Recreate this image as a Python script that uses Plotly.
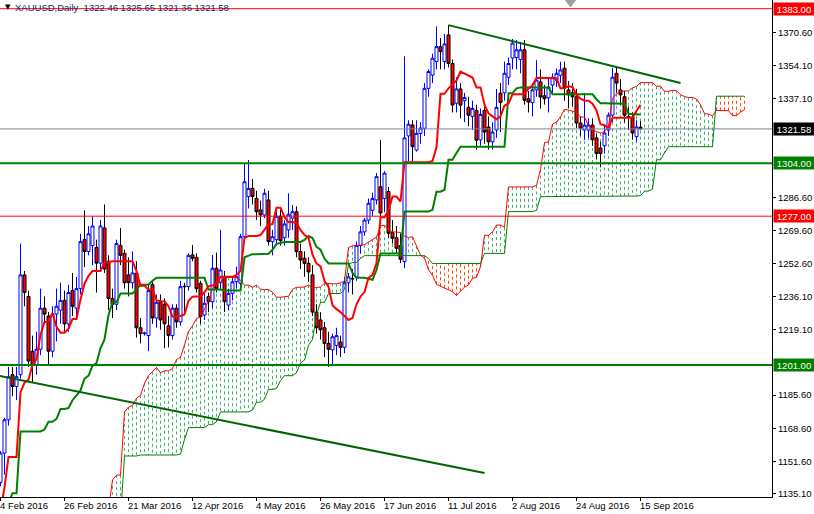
import plotly.graph_objects as go

# ---------------- data ----------------
# highs / lows of the bars before the first visible bar (needed by the Ichimoku windows)
PRE_HIGH = [1082, 1077, 1079, 1077, 1074, 1072, 1067, 1072, 1069, 1063, 1088, 1085, 1079,
            1085, 1078, 1078, 1077, 1068, 1080, 1069, 1068, 1080, 1081, 1078, 1078, 1076,
            1081, 1077, 1065, 1082, 1082, 1094, 1111, 1113, 1100, 1097, 1093, 1093, 1092,
            1093, 1093, 1112, 1107, 1101, 1110, 1123, 1124, 1127, 1122, 1130, 1131, 1146]
PRE_LOW = [1071, 1062, 1066, 1068, 1068, 1052, 1055, 1061, 1050, 1046, 1052, 1069, 1068,
           1071, 1069, 1069, 1058, 1059, 1058, 1047, 1048, 1064, 1072, 1067, 1070, 1066,
           1068, 1058, 1058, 1061, 1071, 1074, 1090, 1094, 1092, 1081, 1080, 1071, 1073,
           1083, 1081, 1084, 1095, 1094, 1095, 1103, 1108, 1111, 1108, 1111, 1121, 1124]

OPEN = [1141, 1156, 1173, 1196, 1190, 1196, 1247, 1236, 1208, 1201,
        1209, 1230, 1226, 1208, 1227, 1229, 1234, 1222, 1239, 1230,
        1240, 1265, 1259, 1262, 1261, 1253, 1271, 1254, 1235, 1232,
        1262, 1258, 1247, 1243, 1248, 1220, 1217, 1216, 1242, 1225,
        1233, 1232, 1221, 1216, 1230, 1223, 1241.2, 1241, 1257.2, 1256,
        1242.7, 1226.5, 1235.9, 1233.3, 1250.4, 1243, 1246, 1231.6, 1237.6, 1243.5,
        1242.7, 1266.5, 1287, 1291.2, 1286.1, 1280.2, 1277.6, 1285.3, 1264, 1265,
        1277, 1266, 1270, 1276, 1279.3, 1258.9, 1255.5, 1252.9, 1247, 1228,
        1224, 1220, 1212, 1208.7, 1211, 1212.7, 1210, 1243, 1245.2, 1246,
        1262, 1269, 1275, 1280, 1285.3, 1292, 1286, 1289.6, 1268.6, 1266,
        1262, 1253.8, 1318, 1323.6, 1310.8, 1319.3, 1321.9, 1342.3, 1349.1, 1356,
        1363.6, 1356, 1369.6, 1355, 1334.7, 1342, 1336, 1332.6, 1328, 1331,
        1316, 1331, 1322.5, 1315, 1321, 1339.8, 1340, 1348, 1357.8, 1358,
        1357, 1362, 1337, 1335, 1341.5, 1345.6, 1338.5, 1337.5, 1344, 1346.5,
        1349, 1352.6, 1341.5, 1340, 1338, 1324.6, 1321, 1321, 1323.6, 1317,
        1311.8, 1313, 1321, 1328.6, 1350, 1341.5, 1338, 1328, 1327.6, 1317.6,
        1322.46]
HIGH = [1157, 1174, 1200, 1200, 1200, 1263, 1249, 1239, 1216, 1218,
        1240, 1236, 1228, 1231, 1240, 1243, 1239, 1242, 1248, 1246,
        1268, 1280, 1272, 1277, 1265, 1275, 1283, 1257, 1240, 1265,
        1271, 1260, 1256, 1259, 1254, 1225, 1218, 1242, 1243.5, 1237,
        1237, 1235, 1226, 1232, 1232, 1244, 1243, 1258, 1262.3, 1258,
        1244, 1237.6, 1238, 1257.2, 1258.4, 1270, 1249, 1240, 1246, 1251.2,
        1268, 1304, 1305.7, 1296, 1290, 1285, 1291, 1290, 1270, 1280,
        1281, 1275, 1288.7, 1282.7, 1282, 1263, 1259, 1256, 1252, 1232,
        1228, 1223, 1218, 1217, 1220, 1216, 1246, 1248, 1250, 1264,
        1272, 1276, 1286, 1289, 1299, 1316, 1300, 1292, 1275, 1272,
        1268, 1358.7, 1326, 1326, 1326, 1325, 1345, 1352, 1360, 1374,
        1368, 1370, 1374.6, 1357, 1348, 1345, 1340, 1338, 1336, 1334,
        1332, 1333, 1328, 1325, 1342, 1345, 1356, 1358, 1367.5, 1367,
        1366, 1367, 1341, 1345, 1356.7, 1352, 1344, 1348, 1350, 1352.5,
        1355.9, 1356, 1346, 1345, 1342, 1328, 1340, 1327, 1327, 1319,
        1315, 1324, 1330, 1352.7, 1352.7, 1347, 1341, 1333, 1330, 1326,
        1325.65]
LOW = [1139, 1145, 1170, 1185, 1183, 1194, 1231, 1200, 1192, 1196,
       1206, 1222, 1201, 1205, 1213, 1222, 1218, 1218, 1226, 1224,
       1237, 1251, 1257, 1252, 1238, 1250, 1248, 1229, 1225, 1229,
       1252, 1240, 1236, 1240, 1215, 1212, 1216, 1208, 1222, 1220,
       1219, 1209.5, 1210, 1214, 1220, 1221, 1227, 1239, 1254, 1238,
       1222, 1224, 1228, 1230, 1238, 1240, 1228, 1229, 1234, 1240,
       1240, 1265, 1281, 1283, 1275, 1272, 1276, 1262, 1257, 1262,
       1262, 1262, 1266, 1270, 1256, 1250, 1246, 1243.5, 1226, 1217,
       1214, 1205, 1200, 1200.5, 1206, 1205, 1207, 1238, 1237, 1244,
       1258, 1267, 1273, 1277, 1283, 1277, 1279, 1266, 1263, 1258,
       1253, 1250.4, 1305, 1305, 1310, 1314, 1318, 1338, 1345, 1352,
       1352, 1352, 1353, 1330, 1330, 1327, 1325, 1323, 1321, 1311,
       1313, 1314, 1311, 1311, 1317, 1320, 1336, 1344, 1352, 1352,
       1350, 1334, 1330, 1328, 1338, 1332, 1334, 1330, 1340, 1343,
       1345, 1336, 1332, 1333, 1322, 1318, 1316, 1317, 1313, 1306,
       1302, 1309, 1318, 1325, 1340, 1334, 1325, 1321, 1316, 1315,
       1321.36]
CLOSE = [1156, 1173, 1195, 1190, 1195, 1247, 1238, 1203, 1201, 1209,
         1230, 1227, 1208, 1227, 1231, 1234, 1222, 1238, 1231, 1240,
         1264, 1259, 1268, 1272, 1253, 1272, 1250, 1235, 1232, 1263,
         1257, 1243, 1243, 1248, 1220, 1217, 1217.3, 1239, 1225, 1233,
         1224, 1222, 1216, 1230, 1223, 1241, 1241, 1257, 1255.5, 1240,
         1225.7, 1232.5, 1233.3, 1250.4, 1240.1, 1249.5, 1233.3, 1237.6, 1243.5, 1246.1,
         1266.5, 1294.6, 1291.2, 1287, 1279.3, 1277.6, 1288.7, 1264, 1266.5, 1277,
         1264.5, 1273, 1278, 1279.3, 1258.9, 1254.6, 1252.9, 1248.5, 1228, 1220,
         1219, 1212, 1209, 1215.4, 1216, 1210, 1243, 1246, 1245, 1262,
         1269, 1275, 1283.6, 1286, 1297.2, 1278.6, 1299, 1268.3, 1265.7, 1260.6,
         1255, 1317, 1324, 1312.5, 1319.3, 1322, 1342.3, 1350.9, 1357.7, 1363.6,
         1361.1, 1365, 1355, 1333.8, 1342, 1333.7, 1337.6, 1328.6, 1332, 1315.8,
         1329, 1320, 1315, 1320, 1332.6, 1335, 1350, 1355, 1365.4, 1362,
         1362, 1336.2, 1335.3, 1341.5, 1346.5, 1337.9, 1337, 1343, 1348, 1350,
         1351.7, 1342.5, 1339, 1338, 1324.6, 1322, 1323.5, 1323.6, 1316, 1309,
         1309, 1319.5, 1328.6, 1348, 1345, 1339, 1328.6, 1327.6, 1319.5, 1322.6,
         1321.58]

DATE_BARS = [0, 16, 32, 48, 64, 80, 96, 112, 128, 144, 160]
DATE_LABELS = ["4 Feb 2016", "26 Feb 2016", "21 Mar 2016", "12 Apr 2016", "4 May 2016",
               "26 May 2016", "17 Jun 2016", "11 Jul 2016", "2 Aug 2016", "24 Aug 2016",
               "15 Sep 2016"]
PRICE_TICKS = [1370.60, 1354.10, 1337.10, 1286.60, 1269.60, 1252.60, 1236.10,
               1219.10, 1185.60, 1168.60, 1151.60, 1135.10]
RED_LEVELS = [1383.00, 1277.00]
GREEN_LEVELS = [1304.00, 1201.00]
BID = 1321.58
TOP_TREND_BARS = [112, 170]
TOP_TREND_PRICES = [1374.6, 1345.0]
LOW_TREND_BARS = [-0.2, 121]
LOW_TREND_PRICES = [1195.4, 1145.8]
HEADER = "XAUUSD,Daily  1322.46 1325.65 1321.36 1321.58"

# ---------------- Ichimoku (9, 26, 52) ----------------
HH = PRE_HIGH + HIGH
LL = PRE_LOW + LOW
OFF = len(PRE_HIGH)
N = len(CLOSE)


def mid(k, n):
    lo = k - n + 1
    if lo < 0:
        return None
    return (max(HH[lo:k + 1]) + min(LL[lo:k + 1])) / 2.0


bars = list(range(N))
tenkan = [mid(i + OFF, 9) for i in bars]
kijun = [mid(i + OFF, 26) for i in bars]
span_x, span_a, span_b = [], [], []
for j in range(-1, N):
    t = mid(j + OFF, 9)
    k = mid(j + OFF, 26)
    b = mid(j + OFF, 52)
    if t is None or k is None or b is None:
        continue
    span_x.append(j + 26)
    span_a.append((t + k) / 2.0)
    span_b.append(b)

green_path, orange_path = [], []
for x, a, b in zip(span_x, span_a, span_b):
    seg = "M{},{}L{},{}".format(x, a, x, b)
    if a >= b:
        green_path.append(seg)
    else:
        orange_path.append(seg)

# ---------------- figure ----------------
fig = go.Figure()

fig.add_trace(go.Scatter(x=span_x, y=span_a, mode="lines",
                         line=dict(color="#FF0000", width=1), hoverinfo="skip"))
fig.add_trace(go.Scatter(x=span_x, y=span_b, mode="lines",
                         line=dict(color="#008000", width=1), hoverinfo="skip"))

fig.add_trace(go.Candlestick(
    x=bars, open=OPEN, high=HIGH, low=LOW, close=CLOSE,
    increasing=dict(line=dict(color="#0000FF", width=1), fillcolor="#FFFFFF"),
    decreasing=dict(line=dict(color="#000000", width=1), fillcolor="#FF0000"),
    whiskerwidth=0, hoverinfo="skip"))

fig.add_trace(go.Scatter(x=bars, y=kijun, mode="lines",
                         line=dict(color="#008000", width=2), hoverinfo="skip"))
fig.add_trace(go.Scatter(x=bars, y=tenkan, mode="lines",
                         line=dict(color="#FF0000", width=2), hoverinfo="skip"))
fig.add_trace(go.Scatter(x=TOP_TREND_BARS, y=TOP_TREND_PRICES, mode="lines",
                         line=dict(color="#006400", width=2), hoverinfo="skip"))
fig.add_trace(go.Scatter(x=LOW_TREND_BARS, y=LOW_TREND_PRICES, mode="lines",
                         line=dict(color="#006400", width=2), hoverinfo="skip"))

shapes = []
if green_path:
    shapes.append(dict(type="path", path="".join(green_path), xref="x", yref="y",
                       layer="below", line=dict(color="#3CB371", width=1, dash="3px,3px")))
if orange_path:
    shapes.append(dict(type="path", path="".join(orange_path), xref="x", yref="y",
                       layer="below", line=dict(color="#FF4500", width=1, dash="3px,3px")))
for lv in RED_LEVELS:
    shapes.append(dict(type="line", xref="paper", x0=0, x1=1, yref="y", y0=lv, y1=lv,
                       line=dict(color="#FF0000", width=1)))
for lv in GREEN_LEVELS:
    shapes.append(dict(type="line", xref="paper", x0=0, x1=1, yref="y", y0=lv, y1=lv,
                       line=dict(color="#008000", width=2)))
shapes.append(dict(type="line", xref="paper", x0=0, x1=1, yref="y", y0=BID, y1=BID,
                   line=dict(color="#778899", width=1)))
# chart-shift marker at the top edge
shapes.append(dict(type="path", xref="paper", yref="paper",
                   path="M0.7325,1 L0.7455,1 L0.739,0.986 Z",
                   fillcolor="#A0A0A0", line=dict(color="#A0A0A0", width=1)))

annotations = []
for b, lab in zip(DATE_BARS, DATE_LABELS):
    annotations.append(dict(x=b, xref="x", y=0, yref="paper", xanchor="left", yanchor="top",
                            xshift=-3, yshift=-1, text=lab, showarrow=False,
                            font=dict(family="Liberation Sans, Arial", size=9.5, color="#000000")))


def price_box(val, color):
    return dict(x=1, xref="paper", y=val, yref="y", xanchor="left", yanchor="middle",
                xshift=1, text="{:.2f}".format(val), showarrow=False, bgcolor=color,
                width=38, height=10, borderpad=1,
                font=dict(family="Liberation Sans, Arial", size=9.5, color="#FFFFFF"))


for lv in RED_LEVELS:
    annotations.append(price_box(lv, "#FF0000"))
for lv in GREEN_LEVELS:
    annotations.append(price_box(lv, "#008000"))
annotations.append(price_box(BID, "#000000"))

annotations.append(dict(x=0, xref="paper", y=1, yref="paper", xanchor="left", yanchor="top",
                        xshift=3, yshift=-1, text="\u25BC", showarrow=False,
                        font=dict(family="DejaVu Sans", size=7, color="#000000")))
annotations.append(dict(x=0, xref="paper", y=1, yref="paper", xanchor="left", yanchor="top",
                        xshift=13, yshift=0, text=HEADER, showarrow=False,
                        font=dict(family="Liberation Sans, Arial", size=9.5, color="#1a1a60")))

fig.update_layout(
    width=814, height=514,
    margin=dict(l=0, r=42, t=0, b=17),
    paper_bgcolor="#FFFFFF", plot_bgcolor="#FFFFFF",
    showlegend=False, boxgap=0.25, boxgroupgap=0,
    shapes=shapes, annotations=annotations,
    xaxis=dict(range=[-0.125, 192.875], showgrid=False, zeroline=False,
               showline=True, linecolor="#000000", linewidth=1,
               tickmode="array", tickvals=DATE_BARS, ticks="outside", ticklen=3,
               tickcolor="#000000", showticklabels=False, rangeslider=dict(visible=False),
               fixedrange=True),
    yaxis=dict(side="right", range=[1133.55, 1387.44], showgrid=False, zeroline=False,
               showline=True, linecolor="#000000", linewidth=1,
               tickmode="array", tickvals=PRICE_TICKS,
               ticktext=["{:.2f}".format(v) for v in PRICE_TICKS],
               ticks="outside", ticklen=3, tickcolor="#000000",
               tickfont=dict(family="Liberation Sans, Arial", size=9.5, color="#000000"),
               fixedrange=True),
)

fig.write_html("out.html", config=dict(displayModeBar=False),
               post_script="document.body.style.margin='0px';document.body.style.padding='0px';")
